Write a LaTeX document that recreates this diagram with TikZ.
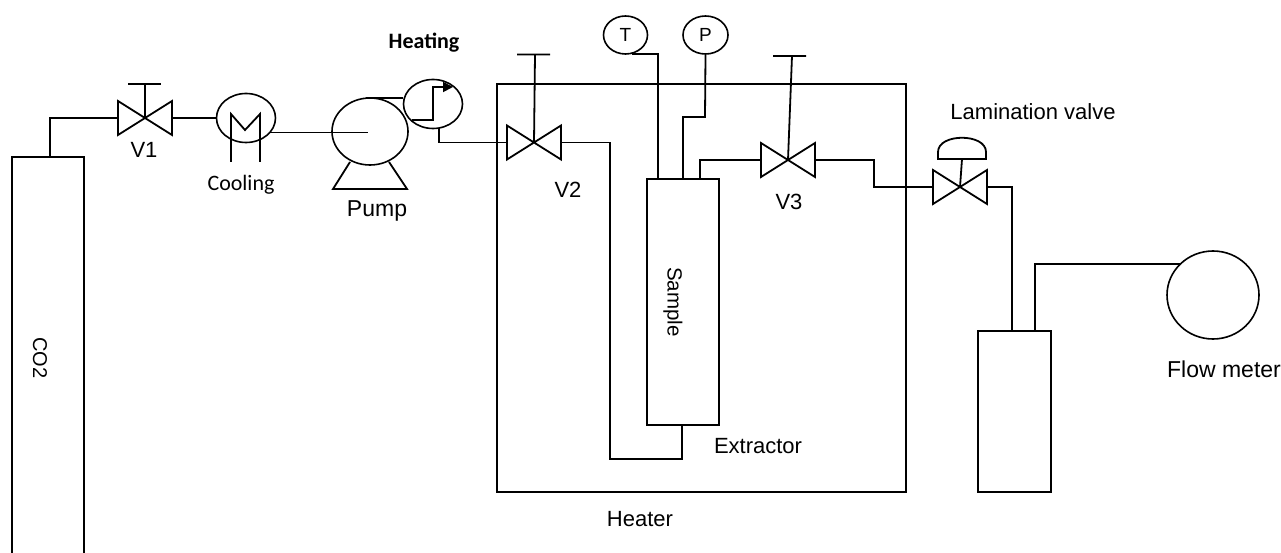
\documentclass[tikz,border=0pt]{standalone}
\usepackage{fontspec}
\setmainfont{Liberation Sans}
\newfontfamily\carlito{Carlito}
\usetikzlibrary{arrows.meta,shapes.geometric}

\newcommand{\valve}[3]{%
  \coordinate (#1) at (#2,#3);
  \coordinate (#1w) at (#2-27,#3);
  \coordinate (#1e) at (#2+27,#3);
  \draw[pipe] (#2-27,#3-17) -- (#2+27,#3+17) -- (#2+27,#3-17) -- (#2-27,#3+17) -- cycle;
}

\begin{document}
\begin{tikzpicture}[
    x=1pt, y=-1pt,
    font=\fontsize{22}{24}\selectfont,
    pipe/.style={line width=1.8pt,line join=miter},
    wall/.style={line width=2.2pt},
    st/.style={rectangle,draw=black,wall,inner sep=0pt},
    disc/.style={ellipse,draw=black,line width=1.6pt,inner sep=0pt},
    lbl/.style={inner sep=0pt},
    cal/.style={lbl,font=\fontsize{22}{24}\selectfont\carlito}]
  \clip (0,0) rectangle (1281,553);

  % ---------------- vessels
  \node[st,minimum width=72pt,minimum height=430pt] (co2) at (48,372) {};
  \node[lbl,rotate=-90,font=\fontsize{20}{22}\selectfont] (co2t) at (40,358) {CO2};
  \node[st,minimum width=409pt,minimum height=408pt] (heater) at (701.5,288) {};
  \node[st,minimum width=72pt,minimum height=246pt] (sample) at (683,302) {};
  \node[lbl,rotate=-90,font=\fontsize{20.5}{22}\selectfont] (samplet) at (673,302) {Sample};
  \node[st,minimum width=73pt,minimum height=161pt] (sep) at (1014.5,411.5) {};

  % ---------------- round equipment
  \node[disc,minimum width=59pt,minimum height=49pt] (cool) at (246,118) {};
  \node[disc,minimum width=76pt,minimum height=67pt] (pump) at (370,131.5) {};
  \node[disc,minimum width=59pt,minimum height=49pt] (heat) at (433,104) {};
  \node[disc,minimum width=44pt,minimum height=38pt,font=\fontsize{19}{21}\selectfont] (tt) at (625.5,35) {T};
  \node[disc,minimum width=45pt,minimum height=38pt,font=\fontsize{19}{21}\selectfont] (pp) at (705.5,35) {P};
  \node[disc,minimum width=92pt,minimum height=88pt] (flow) at (1213,295) {};

  % ---------------- valves
  \valve{v1}{145}{118}
  \valve{v2}{534}{142.5}
  \valve{v3}{788}{160}
  \valve{lam}{960}{187}

  \coordinate (v1top) at (145,84);
  \coordinate (v2top) at (535,54.5);
  \coordinate (v3top) at (792,56);
  \coordinate (lamtop) at (962,159);
  \draw[pipe] (v1) -- (v1top) (128,84) -- (161,84);
  \draw[pipe] (v2) -- (v2top) (517,54.5) -- (550,54.5);
  \draw[pipe] (v3) -- (v3top) (773,56) -- (806,56);
  \draw[pipe] (lam) -- (lamtop);
  \draw[pipe] (938,159) -- (986,159) -- (986,152) .. controls (986,133) and (938,133) .. (938,152) -- cycle;

  % ---------------- cooler and pump details
  \draw[pipe] (231,162) -- (231,114) -- (245,130) -- (260,114) -- (260,162);
  \draw[pipe] (350,162) -- (333,189) -- (407,189) -- (389,162);
  \draw[-{Triangle[length=10pt,width=10pt]},pipe] (412,120) -- (433,120) -- (433,87) -- (453,87);

  % ---------------- piping
  \coordinate (coolout) at (270,132.5);
  \coordinate (pumpmid) at (368,132.5);
  \coordinate (pumptop) at (366,98);
  \coordinate (heatout) at (439,128);
  \coordinate (tout) at (632,54);
  \coordinate (tin) at (658,179);
  \coordinate (pin) at (683,179);
  \coordinate (pbend) at (705,117);
  \coordinate (v3in) at (700,179);
  \coordinate (samplebot) at (682,425);
  \coordinate (lamin) at (874,187);
  \coordinate (sepin) at (1012,331);
  \coordinate (sepout) at (1035,331);
  \coordinate (flowin) at (1181,264);

  \draw[pipe] (co2.north -| 50,0) |- (v1w);
  \draw[pipe] (v1e) -- (cool.west);
  \draw[pipe] (coolout) -- (pumpmid);
  \draw[pipe] (pumptop) -- (heat.west |- pumptop);
  \draw[pipe] (heatout) |- (v2w);
  \draw[pipe] (v2e) -| (610,459) -| (samplebot);
  \draw[pipe] (tout) -| (tin);
  \draw[pipe] (pp.south) -- (pbend) -| (pin);
  \draw[pipe] (v3in) |- (v3w);
  \draw[pipe] (v3e) -| (lamin) -- (lamw);
  \draw[pipe] (lame) -| (sepin);
  \draw[pipe] (sepout) |- (flowin);

  % ---------------- labels
  \node[lbl] (v1t) at (144,150) {V1};
  \node[lbl] (v2t) at (568,190) {V2};
  \node[lbl] (v3t) at (789,202) {V3};
  \node[cal] (coolt) at (241,185) {Cooling};
  \node[cal,font=\fontsize{22}{24}\selectfont\carlito\bfseries] (heatt) at (424,43) {Heating};
  \node[lbl,font=\fontsize{23}{25}\selectfont] (pumpt) at (377,211) {Pump};
  \node[lbl] (lamt) at (1033,112) {Lamination valve};
  \node[lbl] (extt) at (758,446) {Extractor};
  \node[lbl] (heatert) at (640,519) {Heater};
  \node[lbl,font=\fontsize{23}{25}\selectfont] (flowt) at (1224,369) {Flow meter};
\end{tikzpicture}
\end{document}
